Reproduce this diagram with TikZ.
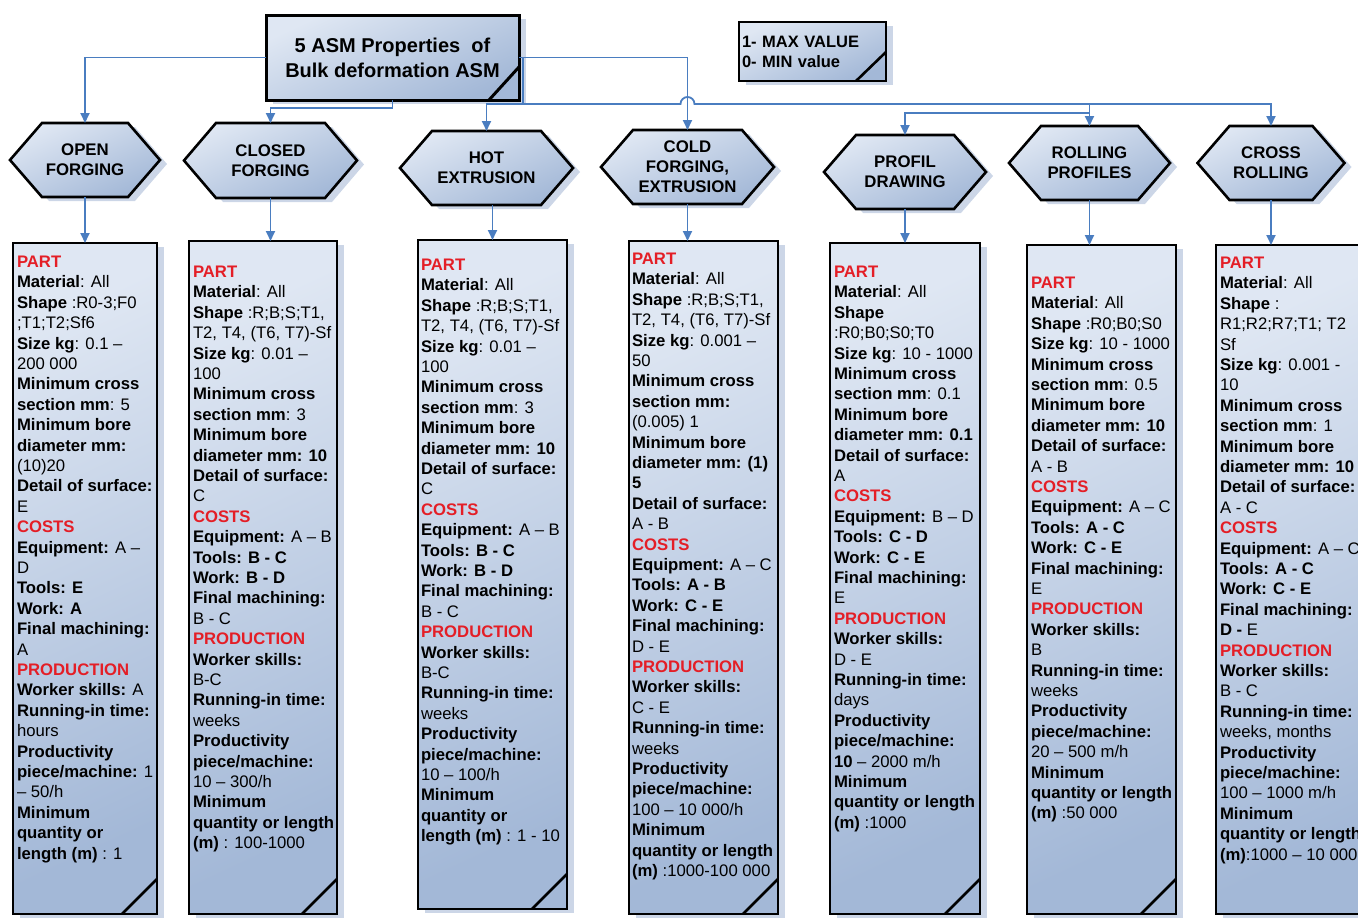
\documentclass[tikz,border=0pt]{standalone}
\usepackage{fontspec}
\setmainfont{Liberation Sans}
\usetikzlibrary{arrows.meta,shadows,calc,backgrounds}
\definecolor{boxlight}{HTML}{DFE7F3}
\definecolor{boxdark}{HTML}{A3B8D7}
\definecolor{shadowc}{HTML}{C6D2E4}
\definecolor{linkblue}{HTML}{4A7DC0}
\definecolor{hdred}{HTML}{E41E26}
\newcommand\hd[1]{\textcolor{hdred}{\textbf{#1}}}
\newcommand\lb[1]{\textbf{#1}}
\tikzset{
  panel/.style={draw=black, line width=2.6pt, top color=boxlight, bottom color=boxdark, shading angle=25,
    drop shadow={shadow xshift=7pt, shadow yshift=-4pt, fill=shadowc, opacity=0.9}, outer sep=0pt},
  boxnode/.style={panel, rectangle, anchor=north west, inner sep=0pt},
  hexlabel/.style={rectangle, inner sep=0pt, outer sep=0pt, align=center, font=\fontsize{16.8}{20.2}\selectfont\bfseries},
  hexa/.style={panel},
  fold/.style={draw=black, line width=2.6pt},
  link/.style={draw=linkblue, line width=1.8pt, -{Triangle[length=10pt,width=9pt]}},
  linkline/.style={draw=linkblue, line width=1.8pt},
  txt/.style={anchor=north west, inner sep=0pt, outer sep=0pt, align=left, font=\fontsize{16.7}{20.4}\selectfont}
}
\begin{document}
\begin{tikzpicture}[x=1pt,y=-1pt]
\useasboundingbox (0,0) rectangle (1358,919);

% root and legend
\node[panel, line width=3pt, minimum width=253pt, minimum height=85pt, align=center,
  font=\fontsize{20}{25}\selectfont\bfseries] (root) at (392.5,57.5) {5 ASM Properties~ of\\Bulk deformation ASM};
\draw[fold, line width=3pt] ($(root.south east)+(-30,0)$) -- ($(root.south east)+(0,-33)$);
\node[panel, minimum width=147pt, minimum height=59pt, text width=141pt, inner sep=3pt, align=left,
  font=\fontsize{16.5}{20}\selectfont\bfseries] (legend) at (812.5,51.5) {1- MAX VALUE\\0- MIN value};
\draw[fold] ($(legend.south east)+(-30,0)$) -- ($(legend.south east)+(0,-29)$);

% hexagon labels
\node[hexlabel, minimum width=150pt, minimum height=74pt] (h1) at (85,160) {OPEN\\FORGING};
\node[hexlabel, minimum width=173pt, minimum height=75pt] (h2) at (270.5,160.5) {CLOSED\\FORGING};
\node[hexlabel, minimum width=173pt, minimum height=74pt] (h3) at (486.5,168) {HOT\\EXTRUSION};
\node[hexlabel, minimum width=173pt, minimum height=74pt] (h4) at (687.5,167) {COLD\\FORGING,\\EXTRUSION};
\node[hexlabel, minimum width=162pt, minimum height=74pt] (h5) at (905,172) {PROFIL\\DRAWING};
\node[hexlabel, minimum width=161pt, minimum height=74pt] (h6) at (1089.5,163) {ROLLING\\PROFILES};
\node[hexlabel, minimum width=147pt, minimum height=74pt] (h7) at (1271,163) {CROSS\\ROLLING};
\begin{scope}[on background layer]
\foreach \h in {h1,h2,h3,h4,h5,h6,h7}{
  \path[hexa] (\h.west) -- ($(\h.north west)+(32,0)$) -- ($(\h.north east)+(-32,0)$) -- (\h.east)
    -- ($(\h.south east)+(-32,0)$) -- ($(\h.south west)+(32,0)$) -- cycle;
}
\end{scope}

% boxes
\node[boxnode, minimum width=144pt, minimum height=671pt] (b1) at (13,243) {};
\node[boxnode, minimum width=148pt, minimum height=673pt] (b2) at (189,241) {};
\node[boxnode, minimum width=149pt, minimum height=669pt] (b3) at (418,240) {};
\node[boxnode, minimum width=149pt, minimum height=673pt] (b4) at (629,241) {};
\node[boxnode, minimum width=150pt, minimum height=671pt] (b5) at (830,243) {};
\node[boxnode, minimum width=149pt, minimum height=669pt] (b6) at (1027,245) {};
\node[boxnode, minimum width=160pt, minimum height=669pt] (b7) at (1216,245) {};
\foreach \b in {b1,b2,b3,b4,b5,b6}{
  \draw[fold] ($(\b.south east)+(-35,0)$) -- ($(\b.south east)+(0,-35)$);
}

% connectors
\draw[link] (root.west) -| (h1.north);
\draw[link] (root.south) -- ++(0,8) -| (h2.north);
\draw[link] (root.east) -| (h4.north);
\coordinate (j1) at (523,57.5);
\coordinate (j2) at (523,104);
\coordinate (hopL) at ($(h4.north |- j2)+(-7,0)$);
\coordinate (j3) at (h6.north |- j2);
\coordinate (j4) at ($(j3)+(0,9)$);
\draw[linkline] (j1) -- (j2);
\draw[link] (j2) -| (h3.north);
\draw[link] (j2) -- (hopL) arc[start angle=180, end angle=0, radius=7pt] -| (h7.north);
\draw[link] (j3) -- (h6.north);
\draw[link] (j4) -| (h5.north);

\draw[link] (h1.south) -- (h1.south |- b1.north);
\draw[link] (h2.south) -- (h2.south |- b2.north);
\draw[link] (h3.south -| b3.north) -- (b3.north);
\draw[link] (h4.south) -- (h4.south |- b4.north);
\draw[link] (h5.south) -- (h5.south |- b5.north);
\draw[link] (h6.south) -- (h6.south |- b6.north);
\draw[link] (h7.south) -- (h7.south |- b7.north);

% texts
\node[txt] (t1) at (17,256) {\hd{PART}\\
\lb{Material}: All\\
\lb{Shape} :R0-3;F0\\
;T1;T2;Sf6\\
\lb{Size kg}: 0.1 –\\
200 000\\
\lb{Minimum cross}\\
\lb{section mm}: 5\\
\lb{Minimum bore}\\
\lb{diameter mm:}\\
(10)20\\
\lb{Detail of surface:}\\
E\\
\hd{COSTS}\\
\lb{Equipment:} A –\\
D\\
\lb{Tools: E}\\
\lb{Work: A}\\
\lb{Final machining:}\\
A\\
\hd{PRODUCTION}\\
\lb{Worker skills:} A\\
\lb{Running-in time:}\\
hours\\
\lb{Productivity}\\
\lb{piece/machine:} 1\\
– 50/h\\
\lb{Minimum}\\
\lb{quantity or}\\
\lb{length (m)} : 1};

\node[txt] (t2) at (193,266) {\hd{PART}\\
\lb{Material}: All\\
\lb{Shape} :R;B;S;T1,\\
T2, T4, (T6, T7)-Sf\\
\lb{Size kg}: 0.01 –\\
100\\
\lb{Minimum cross}\\
\lb{section mm}: 3\\
\lb{Minimum bore}\\
\lb{diameter mm: 10}\\
\lb{Detail of surface:}\\
C\\
\hd{COSTS}\\
\lb{Equipment:} A – B\\
\lb{Tools: B - C}\\
\lb{Work: B - D}\\
\lb{Final machining:}\\
B - C\\
\hd{PRODUCTION}\\
\lb{Worker skills:}\\
B-C\\
\lb{Running-in time:}\\
weeks\\
\lb{Productivity}\\
\lb{piece/machine:}\\
10 – 300/h\\
\lb{Minimum}\\
\lb{quantity or length}\\
\lb{(m)} : 100-1000};

\node[txt] (t3) at (421,259) {\hd{PART}\\
\lb{Material}: All\\
\lb{Shape} :R;B;S;T1,\\
T2, T4, (T6, T7)-Sf\\
\lb{Size kg}: 0.01 –\\
100\\
\lb{Minimum cross}\\
\lb{section mm}: 3\\
\lb{Minimum bore}\\
\lb{diameter mm: 10}\\
\lb{Detail of surface:}\\
C\\
\hd{COSTS}\\
\lb{Equipment:} A – B\\
\lb{Tools: B - C}\\
\lb{Work: B - D}\\
\lb{Final machining:}\\
B - C\\
\hd{PRODUCTION}\\
\lb{Worker skills:}\\
B-C\\
\lb{Running-in time:}\\
weeks\\
\lb{Productivity}\\
\lb{piece/machine:}\\
10 – 100/h\\
\lb{Minimum}\\
\lb{quantity or}\\
\lb{length (m)} : 1 - 10};

\node[txt] (t4) at (632,253) {\hd{PART}\\
\lb{Material}: All\\
\lb{Shape} :R;B;S;T1,\\
T2, T4, (T6, T7)-Sf\\
\lb{Size kg}: 0.001 –\\
50\\
\lb{Minimum cross}\\
\lb{section mm:}\\
(0.005) 1\\
\lb{Minimum bore}\\
\lb{diameter mm: (1)}\\
\lb{5}\\
\lb{Detail of surface:}\\
A - B\\
\hd{COSTS}\\
\lb{Equipment:} A – C\\
\lb{Tools: A - B}\\
\lb{Work: C - E}\\
\lb{Final machining:}\\
D - E\\
\hd{PRODUCTION}\\
\lb{Worker skills:}\\
C - E\\
\lb{Running-in time:}\\
weeks\\
\lb{Productivity}\\
\lb{piece/machine:}\\
100 – 10 000/h\\
\lb{Minimum}\\
\lb{quantity or length}\\
\lb{(m)} :1000-100 000};

\node[txt] (t5) at (834,266) {\hd{PART}\\
\lb{Material}: All\\
\lb{Shape}\\
:R0;B0;S0;T0\\
\lb{Size kg}: 10 - 1000\\
\lb{Minimum cross}\\
\lb{section mm}: 0.1\\
\lb{Minimum bore}\\
\lb{diameter mm: 0.1}\\
\lb{Detail of surface:}\\
A\\
\hd{COSTS}\\
\lb{Equipment:} B – D\\
\lb{Tools: C - D}\\
\lb{Work: C - E}\\
\lb{Final machining:}\\
E\\
\hd{PRODUCTION}\\
\lb{Worker skills:}\\
D - E\\
\lb{Running-in time:}\\
days\\
\lb{Productivity}\\
\lb{piece/machine:}\\
\lb{10} – 2000 m/h\\
\lb{Minimum}\\
\lb{quantity or length}\\
\lb{(m)} :1000};

\node[txt] (t6) at (1031,277) {\hd{PART}\\
\lb{Material}: All\\
\lb{Shape} :R0;B0;S0\\
\lb{Size kg}: 10 - 1000\\
\lb{Minimum cross}\\
\lb{section mm}: 0.5\\
\lb{Minimum bore}\\
\lb{diameter mm: 10}\\
\lb{Detail of surface:}\\
A - B\\
\hd{COSTS}\\
\lb{Equipment:} A – C\\
\lb{Tools: A - C}\\
\lb{Work: C - E}\\
\lb{Final machining:}\\
E\\
\hd{PRODUCTION}\\
\lb{Worker skills:}\\
B\\
\lb{Running-in time:}\\
weeks\\
\lb{Productivity}\\
\lb{piece/machine:}\\
20 – 500 m/h\\
\lb{Minimum}\\
\lb{quantity or length}\\
\lb{(m)} :50 000};

\node[txt] (t7) at (1220,257) {\hd{PART}\\
\lb{Material}: All\\
\lb{Shape} :\\
R1;R2;R7;T1; T2\\
Sf\\
\lb{Size kg}: 0.001 -\\
10\\
\lb{Minimum cross}\\
\lb{section mm}: 1\\
\lb{Minimum bore}\\
\lb{diameter mm: 10}\\
\lb{Detail of surface:}\\
A - C\\
\hd{COSTS}\\
\lb{Equipment:} A – C\\
\lb{Tools: A - C}\\
\lb{Work: C - E}\\
\lb{Final machining:}\\
\lb{D -} E\\
\hd{PRODUCTION}\\
\lb{Worker skills:}\\
B - C\\
\lb{Running-in time:}\\
weeks, months\\
\lb{Productivity}\\
\lb{piece/machine:}\\
100 – 1000 m/h\\
\lb{Minimum}\\
\lb{quantity or length}\\
\lb{(m)}:1000 – 10 000};
\end{tikzpicture}
\end{document}
